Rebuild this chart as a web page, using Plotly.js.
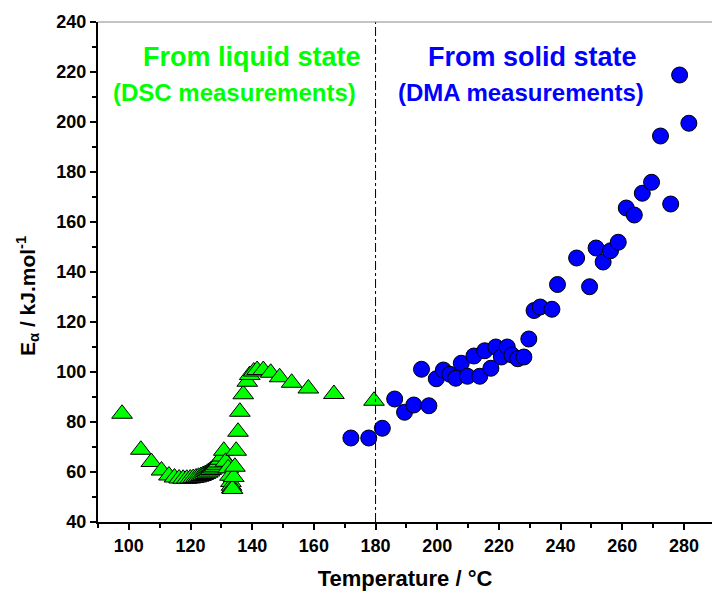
<!DOCTYPE html>
<html>
<head>
<meta charset="utf-8">
<script src="https://cdn.plot.ly/plotly-3.0.1.min.js"></script>
<style>html,body{margin:0;padding:0;background:#fff;}#chart{width:712px;height:595px;}</style>
</head>
<body>
<div id="chart"></div>
<script>
// DSC (from liquid state) – green triangles
const dscTemp = [97.8,103.9,107.3,110.6,113.0,114.8,116.3,117.6,118.8,119.9,120.9,121.8,122.6,123.4,124.1,124.8,125.5,126.1,126.7,127.3,127.9,128.5,129.1,129.7,130.3,130.8,131.4,132.2,132.8,133.1,133.3,133.4,133.6,134.0,134.4,134.8,135.4,136.0,137.1,138.4,139.2,140.5,141.6,143.6,146.0,148.9,152.8,158.2,166.5,179.5];
const dscEa   = [83.3,68.9,64.0,60.6,58.6,57.8,57.4,57.3,57.3,57.4,57.6,57.8,58.1,58.4,58.8,59.2,59.7,60.2,60.8,61.4,62.1,62.9,63.8,64.9,66.2,68.5,64.1,61.5,58.5,56.0,54.5,53.5,53.2,58.0,62.1,68.5,76.1,84.1,91.1,96.1,98.8,100.2,100.8,100.8,99.7,97.9,95.7,93.4,91.2,88.5];

// DMA (from solid state) – blue circles
const dmaTemp = [172.0,177.8,182.2,186.2,189.4,192.4,194.9,197.3,199.7,202.0,204.1,206.0,207.8,209.8,211.9,213.8,215.4,217.4,219.0,220.8,222.7,224.2,226.1,228.1,229.7,231.4,233.4,237.2,239.0,245.2,249.4,251.5,253.8,256.2,258.7,261.3,263.9,266.5,269.5,272.4,275.7,278.6,281.6];
const dmaEa   = [73.6,73.6,77.5,89.2,83.9,86.8,101.1,86.5,97.3,100.8,99.1,97.5,103.5,98.3,106.4,98.3,108.5,101.5,110.0,106.0,110.0,106.8,105.3,106.0,113.2,124.6,126.0,125.1,135.0,145.6,134.1,149.6,144.0,148.5,151.9,165.6,162.8,171.5,175.9,194.4,167.2,218.8,199.5];

// Axis ticks
const xTicks = [100,120,140,160,180,200,220,240,260,280];
const yTicks = [40,60,80,100,120,140,160,180,200,220,240];
const dividerTemp = 180;

const labels = {
  liquid1: "From liquid state",
  liquid2: "(DSC measurements)",
  solid1: "From solid state",
  solid2: "(DMA measurements)",
  xTitle: "Temperature / °C",
  yTitle: "E<sub>α</sub> / kJ.mol<sup>-1</sup>"
};

const FONT = "Arial, 'Liberation Sans', Helvetica, sans-serif";
const GREEN = "#00ff00";
const BLUE = "#0000ff";

const traces = [
  {
    x: dscTemp, y: dscEa, type: "scatter", mode: "markers",
    marker: {symbol: "triangle-up", size: 18, color: GREEN, line: {color: "#000", width: 1}},
    hoverinfo: "x+y", showlegend: false
  },
  {
    x: dmaTemp, y: dmaEa, type: "scatter", mode: "markers",
    marker: {symbol: "circle", size: 16, color: BLUE, line: {color: "#000", width: 1}},
    hoverinfo: "x+y", showlegend: false
  }
];

const L = 98, W = 614, B = 73, H = 500;
function px2paperX(px){ return (px - L) / W; }
function px2paperY(py){ return (595 - B - py) / H; }

const layout = {
  width: 712, height: 595,
  margin: {l: L, r: 0, t: 22, b: B, pad: 0},
  paper_bgcolor: "#fff", plot_bgcolor: "#fff",
  font: {family: FONT, color: "#000"},
  xaxis: {
    range: [90, 289.1], tickvals: xTicks, ticks: "outside", ticklen: 6, tickwidth: 2,
    tickcolor: "#000", showline: true, linecolor: "#000", linewidth: 2,
    showgrid: false, zeroline: false, mirror: false,
    minor: {dtick: 10, tick0: 0, ticks: "outside", ticklen: 4, tickwidth: 2, tickcolor: "#000", showgrid: false},
    tickfont: {family: FONT, size: 18, weight: "bold", color: "#000"},
    title: {text: "<b>" + labels.xTitle + "</b>", font: {family: FONT, size: 22, color: "#000"}, standoff: 16},
    fixedrange: true
  },
  yaxis: {
    range: [40, 240], tickvals: yTicks, ticks: "outside", ticklen: 6, tickwidth: 2,
    tickcolor: "#000", showline: true, linecolor: "#000", linewidth: 2,
    showgrid: false, zeroline: false, mirror: false,
    minor: {dtick: 10, tick0: 0, ticks: "outside", ticklen: 4, tickwidth: 2, tickcolor: "#000", showgrid: false},
    tickfont: {family: FONT, size: 18, weight: "bold", color: "#000"},
    fixedrange: true
  },
  shapes: [
    {type: "line", xref: "x", yref: "paper", x0: dividerTemp, x1: dividerTemp, y0: 0, y1: 1,
     line: {color: "#000", width: 1, dash: "dashdot"}},
    {type: "line", xref: "paper", yref: "paper", x0: 0, x1: 1, y0: 1, y1: 1,
     line: {color: "#888", width: 1}}
  ],
  annotations: [
    {text: "<b>" + labels.liquid1 + "</b>", xref: "paper", yref: "paper", x: px2paperX(252), y: px2paperY(57),
     xanchor: "center", yanchor: "middle", showarrow: false, font: {family: FONT, size: 27, color: GREEN}},
    {text: "<b>" + labels.liquid2 + "</b>", xref: "paper", yref: "paper", x: px2paperX(234), y: px2paperY(92),
     xanchor: "center", yanchor: "middle", showarrow: false, font: {family: FONT, size: 24, color: GREEN}},
    {text: "<b>" + labels.solid1 + "</b>", xref: "paper", yref: "paper", x: px2paperX(532), y: px2paperY(57),
     xanchor: "center", yanchor: "middle", showarrow: false, font: {family: FONT, size: 27, color: BLUE}},
    {text: "<b>" + labels.solid2 + "</b>", xref: "paper", yref: "paper", x: px2paperX(521), y: px2paperY(92),
     xanchor: "center", yanchor: "middle", showarrow: false, font: {family: FONT, size: 24, color: BLUE}},
    {text: "<b>" + labels.yTitle + "</b>", xref: "paper", yref: "paper", x: px2paperX(27), y: px2paperY(296),
     xanchor: "center", yanchor: "middle", textangle: -90, showarrow: false, font: {family: FONT, size: 21, color: "#000"}}
  ]
};

Plotly.newPlot("chart", traces, layout, {displayModeBar: false, staticPlot: true});
</script>
</body>
</html>
